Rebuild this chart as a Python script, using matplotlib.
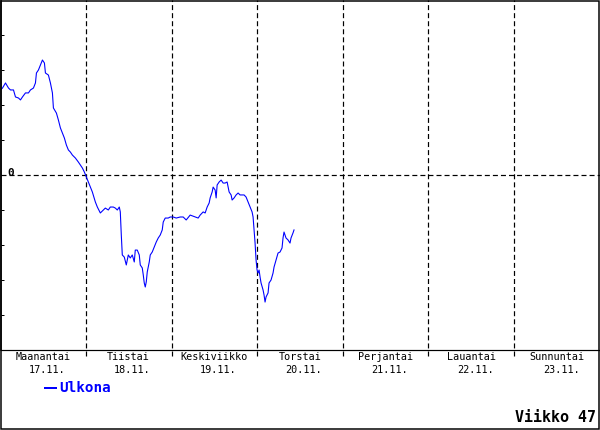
import matplotlib
matplotlib.use('Agg')
import matplotlib.pyplot as plt
from matplotlib.patches import Rectangle

plt.rcParams['lines.scale_dashes'] = False

# hours from Monday 00:00, outdoor temperature (C)
hours = [0.0, 0.56, 1.4, 2.24, 2.8, 3.64, 4.2, 5.04, 5.6, 6.16, 7.0, 7.84, 8.4, 9.24,
         9.8, 10.08, 10.64, 11.2, 11.76, 12.32, 12.6, 13.44, 14.0, 14.56, 14.84, 15.68,
         16.24, 16.8, 17.36, 17.92, 18.48, 19.04, 19.6, 20.16, 21.0, 21.84, 22.4, 22.96,
         23.52, 24.08, 24.64, 25.2, 25.76, 26.6, 27.16, 28.0, 28.84, 29.4, 30.24, 30.8,
         31.64, 32.2, 32.76, 33.32, 33.6, 33.88, 34.16, 34.72, 35.28, 35.84, 36.4, 36.96,
         37.52, 37.8, 38.36, 38.92, 39.2, 39.76, 40.04, 40.32, 40.6, 40.88, 41.16, 41.72,
         42.0, 42.56, 43.12, 43.68, 44.24, 44.8, 45.36, 45.64, 46.2, 47.04, 47.6, 48.44,
         49.28, 50.4, 51.24, 52.08, 53.2, 54.6, 55.44, 56.0, 56.84, 57.4, 57.96, 58.52,
         58.8, 59.36, 59.64, 60.2, 60.48, 60.76, 61.32, 61.88, 62.44, 63.0, 63.56, 63.84,
         64.12, 64.68, 64.96, 65.52, 66.08, 66.64, 67.2, 67.76, 68.32, 68.88, 69.44, 70.0,
         70.56, 70.84, 71.12, 71.4, 71.68, 71.96, 72.24, 72.52, 72.8, 73.08, 73.64, 73.92,
         74.2, 74.48, 75.04, 75.32, 75.88, 76.44, 76.72, 77.28, 77.84, 78.4, 78.96, 79.24,
         79.52, 80.08, 80.64, 81.2, 81.48, 82.04, 82.32]
temps = [4.86, 4.97, 5.26, 4.97, 4.86, 4.86, 4.46, 4.4, 4.29, 4.46, 4.69, 4.69, 4.86, 4.97,
         5.26, 5.83, 6.0, 6.29, 6.57, 6.4, 5.83, 5.71, 5.26, 4.69, 3.83, 3.54,
         3.14, 2.69, 2.4, 2.11, 1.71, 1.43, 1.31, 1.14, 0.97, 0.74, 0.57, 0.4,
         0.17, -0.11, -0.4, -0.69, -0.97, -1.54, -1.83, -2.17, -2.0, -1.89, -2.0, -1.83,
         -1.83, -1.89, -2.0, -1.83, -2.11, -3.43, -4.57, -4.69, -5.14, -4.57, -4.74, -4.57,
         -4.97, -4.29, -4.29, -4.57, -5.14, -5.31, -5.71, -6.17, -6.4, -6.11, -5.54, -4.97,
         -4.57, -4.4, -4.11, -3.83, -3.6, -3.43, -3.14, -2.69, -2.46, -2.46, -2.4, -2.4,
         -2.46, -2.4, -2.4, -2.57, -2.29, -2.4, -2.46, -2.29, -2.11, -2.17, -1.83, -1.6,
         -1.31, -0.97, -0.69, -0.86, -1.31, -0.57, -0.4, -0.29, -0.46, -0.46, -0.4, -0.69,
         -0.97, -1.14, -1.43, -1.31, -1.14, -1.03, -1.14, -1.14, -1.14, -1.26, -1.54, -1.83,
         -2.11, -2.4, -3.14, -3.89, -4.86, -5.43, -5.6, -5.43, -5.83, -6.17, -6.57, -6.86,
         -7.26, -6.97, -6.74, -6.17, -6.0, -5.6, -5.26, -4.86, -4.46, -4.4, -4.17, -3.6,
         -3.26, -3.6, -3.71, -3.89, -3.6, -3.31, -3.14]

day_names = ['Maanantai', 'Tiistai', 'Keskiviikko', 'Torstai', 'Perjantai', 'Lauantai', 'Sunnuntai']
dates = ['17.11.', '18.11.', '19.11.', '20.11.', '21.11.', '22.11.', '23.11.']

W, H = 600, 430
fig = plt.figure(figsize=(6, 4.3), dpi=100)
ax = fig.add_axes([0.5 / W, 80 / H, 599 / W, 350 / H])
ax.set_xlim(0, 168)
ax.set_ylim(-10, 10)

px = 0.72  # one pixel in points
dash = (3.6, 2.2)
for d in range(1, 7):
    ax.axvline(d * 24, ymin=-6 / 350, ymax=1, color='black', lw=1.2 * px, ls=(0, dash), clip_on=False)
ax.axhline(0, color='black', lw=1.2 * px, ls=(0, dash))

ax.plot(hours, temps, color='#0000ff', lw=1.1 * px)

for s in ['top', 'right']:
    ax.spines[s].set_visible(False)
ax.spines['left'].set_linewidth(1.5 * px)
ax.spines['bottom'].set_linewidth(1.2 * px)
ax.set_xticks([])
ax.set_yticks(range(-8, 10, 2))
ax.tick_params(axis='y', direction='in', length=2.5, width=px, labelleft=False)

ax.text(7 * 168 / 600, 0.12, '0', fontsize=8, fontweight='bold', family='DejaVu Sans Mono',
        ha='left', va='center')

mono = 'DejaVu Sans Mono'
for i, (n, dt) in enumerate(zip(day_names, dates)):
    cx = (i + 0.5) * 600 / 7
    fig.text(cx / W, 1 - 357 / H, n, fontsize=7.3, family=mono, ha='center', va='center')
    fig.text((cx + 4) / W, 1 - 370 / H, dt, fontsize=7.3, family=mono, ha='center', va='center')

fig.lines.append(plt.Line2D([45 / W, 56 / W], [1 - 388 / H, 1 - 388 / H],
                            transform=fig.transFigure, color='#0000ff', lw=2 * px))
fig.text(59 / W, 1 - 388 / H, 'Ulkona', fontsize=10.3, fontweight='bold', family=mono,
         color='#0000ff', ha='left', va='center')
fig.text(596 / W, 1 - 417 / H, 'Viikko 47', fontsize=10.8, fontweight='bold', family=mono,
         color='black', ha='right', va='center')

fig.patches.append(Rectangle((1 / W, 1 / H), 598 / W, 428 / H, transform=fig.transFigure,
                             fill=False, edgecolor='black', lw=1.5 * px))

fig.savefig('out.png', dpi=100)
